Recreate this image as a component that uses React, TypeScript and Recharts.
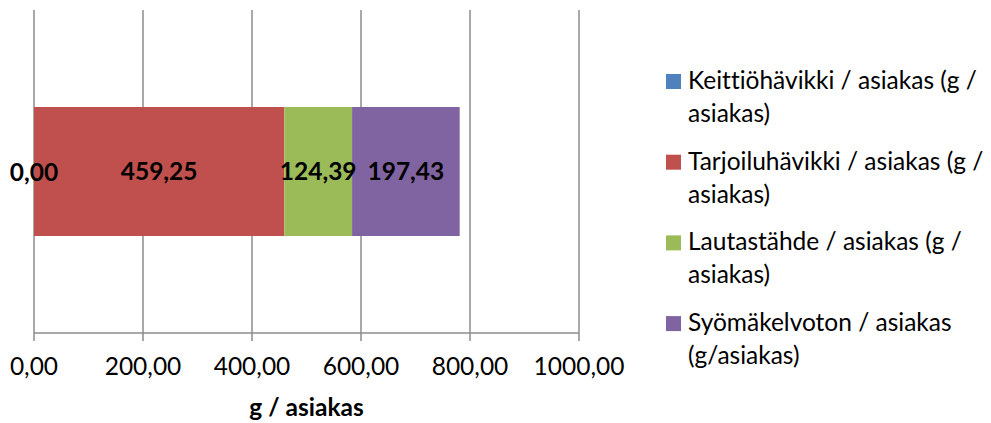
import React from 'react';
import { BarChart, Bar, XAxis, YAxis, CartesianGrid, LabelList } from 'recharts';

const categories = ['Kaikki'];
const seriesKeys = ['keittio', 'tarjoilu', 'lautas', 'syomakelvoton'];
const keittioValues = [0];
const tarjoiluValues = [459.25];
const lautasValues = [124.39];
const syomakelvotonValues = [197.43];
const xTicks = [0, 200, 400, 600, 800, 1000];
const legendLines = [
  ['Keittiöhävikki / asiakas (g /', 'asiakas)'],
  ['Tarjoiluhävikki / asiakas (g /', 'asiakas)'],
  ['Lautastähde / asiakas (g /', 'asiakas)'],
  ['Syömäkelvoton / asiakas', '(g/asiakas)'],
];
const colors = ['#4F81BD', '#C0504D', '#9BBB59', '#8064A2'];
const axisTitle = 'g / asiakas';

const valueLists = [keittioValues, tarjoiluValues, lautasValues, syomakelvotonValues];
const data = categories.map((name, i) => {
  const row: Record<string, any> = { name };
  seriesKeys.forEach((k, s) => {
    row[k] = valueLists[s][i];
  });
  return row;
});

const FONT = 'Lato, "Open Sans", sans-serif';
const FS = 24.5;
const fmt = (v: any) => Number(v).toFixed(2).replace('.', ',');
const labelStyle = { fontSize: FS, fontWeight: 'bold', fill: '#000', fontFamily: FONT };

// Zero-width first segment: its label sits at the start of the next segment (the stack start).
const ZeroLabel = (props: any) => {
  const { x, y, height, value } = props;
  return (
    <text x={x} y={y + height / 2} textAnchor="middle" dominantBaseline="central" style={labelStyle as any}>
      {fmt(value)}
    </text>
  );
};

export default function App() {
  return (
    <div
      style={{
        position: 'absolute',
        left: 0,
        top: 0,
        width: 991,
        height: 423,
        background: '#fff',
        fontFamily: FONT,
        fontVariantLigatures: 'none',
      }}
    >
      <BarChart
        width={991}
        height={423}
        data={data}
        layout="vertical"
        margin={{ top: 10, right: 412, bottom: 7, left: 34 }}
        barCategoryGap="30%"
        style={{ fontFamily: FONT }}
      >
        <CartesianGrid horizontal={false} vertical={true} stroke="#8c8c8c" strokeWidth={1.5} />
        <XAxis
          type="number"
          domain={[0, 1000]}
          ticks={xTicks}
          tickFormatter={fmt}
          interval={0}
          height={83}
          axisLine={{ stroke: '#8c8c8c', strokeWidth: 1.5 }}
          tickLine={{ stroke: '#8c8c8c', strokeWidth: 1.5 }}
          tickSize={8}
          tickMargin={17}
          tick={{ fontSize: FS, fill: '#000', fontFamily: FONT }}
          label={{
            value: axisTitle,
            position: 'insideBottom',
            offset: 0,
            style: labelStyle,
          }}
        />
        <YAxis type="category" dataKey="name" hide />
        {seriesKeys.map((k, s) => (
          <Bar key={k} dataKey={k} stackId="a" fill={colors[s]} isAnimationActive={false}>
            <LabelList dataKey={k} position="center" formatter={fmt} style={labelStyle as any} />
            {s === 1 ? <LabelList dataKey={seriesKeys[0]} content={ZeroLabel} /> : null}
          </Bar>
        ))}
      </BarChart>
      <svg width={991} height={423} style={{ position: 'absolute', left: 0, top: 0, pointerEvents: 'none' }}>
        {legendLines.map((lines, i) => {
          const base = 89 + i * 80.7;
          return (
            <g key={i}>
              <rect x={666} y={base - 15} width={15} height={15} fill={colors[i]} />
              {lines.map((t, j) => (
                <text
                  key={j}
                  x={688}
                  y={base + j * 33}
                  fontSize={24.5}
                  fill="#000"
                  fontFamily={FONT}
                  style={{ fontVariantLigatures: 'none' }}
                >
                  {t}
                </text>
              ))}
            </g>
          );
        })}
      </svg>
    </div>
  );
}
